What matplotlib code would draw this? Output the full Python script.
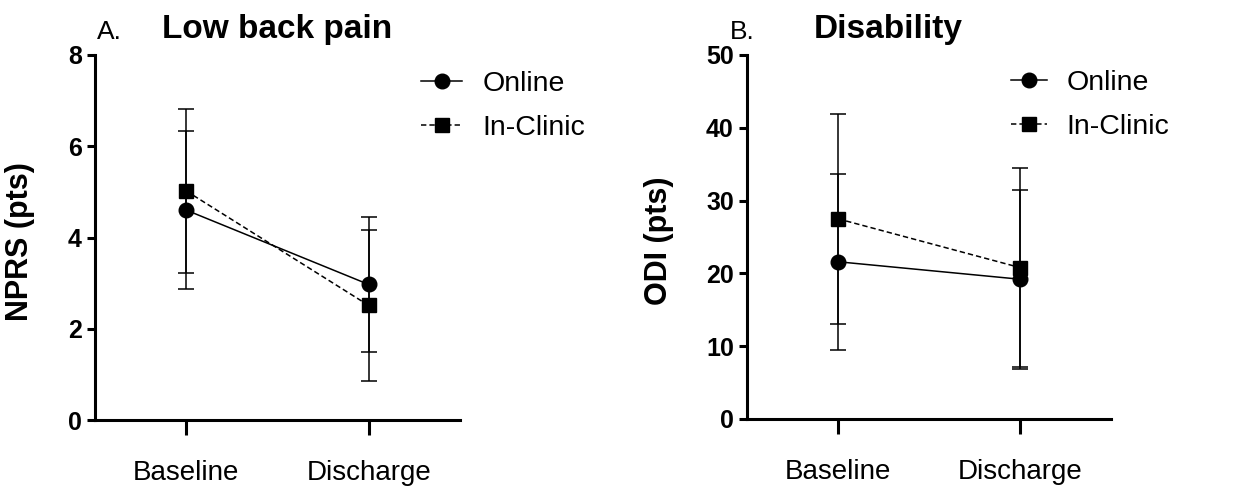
import numpy as np
import matplotlib
matplotlib.use('Agg')
import matplotlib.pyplot as plt

plt.rcParams['font.family'] = ['Liberation Sans', 'DejaVu Sans']

timepoints = ['Baseline', 'Discharge']

# panel A - NPRS
nprs_online = [4.6, 2.97]
nprs_online_sd = [1.73, 1.47]
nprs_clinic = [5.02, 2.51]
nprs_clinic_sd = [1.79, 1.65]

# panel B - ODI
odi_online = [21.6, 19.2]
odi_online_sd = [12.1, 12.3]
odi_clinic = [27.5, 20.8]
odi_clinic_sd = [14.4, 13.7]

W, H = 1247, 492
fig = plt.figure(figsize=(W/100, H/100), dpi=100)

def px(x0, y0, x1, y1):
    # pixel box -> figure fraction [left, bottom, width, height]
    return [x0/W, 1-y1/H, (x1-x0)/W, (y1-y0)/H]

axA = fig.add_axes(px(95, 55, 460, 420))
axB = fig.add_axes(px(747, 55, 1111, 419))

def draw_panel(ax, on, on_sd, cl, cl_sd, ymax, ystep, ylab, labx, hlen):
    x = np.arange(len(timepoints))
    ax.errorbar(x, cl, yerr=cl_sd, fmt='none', ecolor='black', elinewidth=1.1,
                capsize=5.8, capthick=1.1, zorder=2)
    ax.errorbar(x, on, yerr=on_sd, fmt='none', ecolor='black', elinewidth=1.1,
                capsize=5.8, capthick=1.1, zorder=2)
    ax.plot(x, on, '-', color='black', marker='o', markersize=10.5, lw=1.1,
            label='Online', zorder=3)
    ax.plot(x, cl, color='black', linestyle=(0, (3.5, 2)), marker='s', markersize=10,
            lw=1.1, label='In-Clinic', zorder=3)
    ax.set_xlim(-0.5, 1.5)
    ax.set_ylim(0, ymax)
    ax.set_yticks(np.arange(0, ymax + 0.1, ystep))
    ax.set_xticks(x)
    ax.set_xticklabels(timepoints, fontsize=20)
    for t in ax.get_yticklabels():
        t.set_fontweight('bold')
        t.set_fontsize(18)
    ax.spines['top'].set_visible(False)
    ax.spines['right'].set_visible(False)
    ax.spines['left'].set_linewidth(2.2)
    ax.spines['bottom'].set_linewidth(2.2)
    ax.spines['left'].set_capstyle('projecting')
    ax.spines['bottom'].set_capstyle('projecting')
    ax.tick_params(axis='x', length=11, width=2.2, pad=18)
    ax.tick_params(axis='y', length=6, width=2.2, pad=3.5)
    ax.set_ylabel(ylab, fontsize=22, fontweight='bold')
    ax.yaxis.set_label_coords(labx, 0.49)
    leg = ax.legend(loc='center left', bbox_to_anchor=(0, 0), frameon=False,
                    fontsize=20.5, handlelength=1.45 * hlen, handletextpad=0.7,
                    labelspacing=0.65, borderpad=0, borderaxespad=0, numpoints=1)
    return leg

legA = draw_panel(axA, nprs_online, nprs_online_sd, nprs_clinic, nprs_clinic_sd,
                  8, 2, 'NPRS (pts)', -0.165, 1.0)
legB = draw_panel(axB, odi_online, odi_online_sd, odi_clinic, odi_clinic_sd,
                  50, 10, 'ODI (pts)', -0.2, 0.87)
legA.set_bbox_to_anchor((421/W, 1-106/H), transform=fig.transFigure)
legB.set_bbox_to_anchor((1011/W, 1-105/H), transform=fig.transFigure)

# panel letters and titles
fig.text(97/W, 1-39/H, 'A.', fontsize=19, va='baseline', ha='left')
fig.text(277/W, 1-38/H, 'Low back pain', fontsize=24, fontweight='bold',
         va='baseline', ha='center')
fig.text(730/W, 1-39/H, 'B.', fontsize=19, va='baseline', ha='left')
fig.text(888/W, 1-38/H, 'Disability', fontsize=24, fontweight='bold',
         va='baseline', ha='center')

fig.savefig('out.png', dpi=100)
